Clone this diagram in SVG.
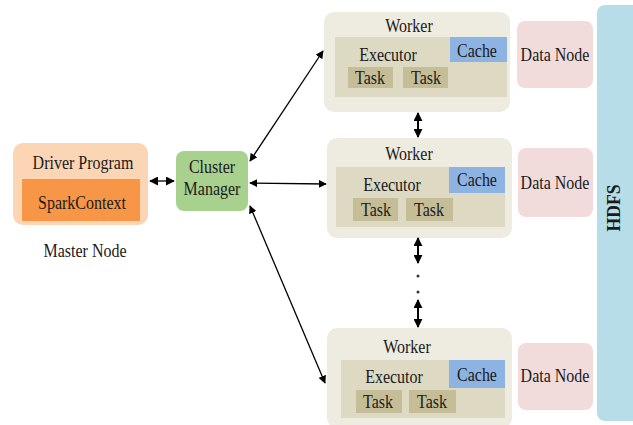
<svg xmlns="http://www.w3.org/2000/svg" width="633" height="425" viewBox="0 0 633 425">
<style>
text{font-family:"Liberation Serif","Times New Roman",serif;font-size:16px;fill:#1a1a1a;text-anchor:middle}
.worker{fill:#EEECE1}
.exec{fill:#DDD9C3}
.task{fill:#C4BD97}
.cache{fill:#8DB3E2}
.dn{fill:#F2DCDB}
.ln{stroke:#000;stroke-width:1.3;fill:none}
.thk{stroke:#000;stroke-width:2;fill:none}
</style>
<defs>
<marker id="ah" viewBox="0 0 10 10" refX="9" refY="5" markerWidth="8" markerHeight="8" orient="auto-start-reverse" markerUnits="userSpaceOnUse">
<path d="M0,0 L10,5 L0,10 z" fill="#000"/>
</marker>
<marker id="ahb" viewBox="0 0 10 10" refX="9" refY="5" markerWidth="9" markerHeight="9" orient="auto-start-reverse" markerUnits="userSpaceOnUse">
<path d="M0,0 L10,5 L0,10 z" fill="#000"/>
</marker>
</defs>
<rect x="0" y="0" width="633" height="425" fill="#fff"/>

<g id="hdfs">
<rect x="597" y="5" width="45" height="416" rx="8" fill="#B7DDE8"/>
<text transform="translate(620,208) rotate(-90) scale(1.1,1.15)" font-weight="bold">HDFS</text>
</g>

<g id="driver">
<rect x="13" y="143" width="135" height="82" rx="10" fill="#FCD5B5"/>
<text transform="translate(83,169) scale(1,1.18)">Driver Program</text>
<rect x="22" y="179" width="118" height="42" fill="#F79646"/>
<text transform="translate(82,209) scale(1,1.18)">SparkContext</text>
</g>
<g id="master-label"><text transform="translate(85,257) scale(1,1.18)">Master Node</text></g>

<g id="cluster">
<rect x="176" y="151" width="72" height="60" rx="8" fill="#A9D18E"/>
<text transform="translate(212,173) scale(1,1.18)">Cluster</text>
<text transform="translate(212,195) scale(1,1.18)">Manager</text>
</g>

<g id="worker1">
<rect class="worker" x="324" y="12" width="186" height="100" rx="10"/>
<text transform="translate(409,32) scale(1,1.18)">Worker</text>
<rect class="exec" x="335" y="37" width="172" height="60"/>
<rect class="cache" x="450" y="37" width="57" height="25"/>
<text transform="translate(388,61) scale(1,1.18)">Executor</text>
<text transform="translate(477,57) scale(1,1.18)">Cache</text>
<rect class="task" x="348" y="67" width="45" height="21"/>
<text transform="translate(370,84) scale(1,1.18)">Task</text>
<rect class="task" x="403" y="67" width="45" height="21"/>
<text transform="translate(426,84) scale(1,1.18)">Task</text>
</g>
<g id="datanode1">
<rect class="dn" x="517" y="21" width="76" height="67" rx="8"/>
<text transform="translate(555,61) scale(1,1.18)">Data Node</text>
</g>

<g id="worker2">
<rect class="worker" x="327" y="138" width="185" height="100" rx="10"/>
<text transform="translate(409,160) scale(1,1.18)">Worker</text>
<rect class="exec" x="336" y="167" width="169" height="60"/>
<rect class="cache" x="449" y="167" width="56" height="26"/>
<text transform="translate(392,191) scale(1,1.18)">Executor</text>
<text transform="translate(477,186) scale(1,1.18)">Cache</text>
<rect class="task" x="353" y="198" width="45" height="23"/>
<text transform="translate(376,216) scale(1,1.18)">Task</text>
<rect class="task" x="406" y="198" width="47" height="23"/>
<text transform="translate(429,216) scale(1,1.18)">Task</text>
</g>
<g id="datanode2">
<rect class="dn" x="518" y="148" width="75" height="69" rx="8"/>
<text transform="translate(555,189) scale(1,1.18)">Data Node</text>
</g>

<g id="worker3">
<rect class="worker" x="327" y="328" width="185" height="100" rx="10"/>
<text transform="translate(407,353) scale(1,1.18)">Worker</text>
<rect class="exec" x="341" y="360" width="164" height="58"/>
<rect class="cache" x="449" y="360" width="56" height="28"/>
<text transform="translate(394,383) scale(1,1.18)">Executor</text>
<text transform="translate(477,381) scale(1,1.18)">Cache</text>
<rect class="task" x="356" y="390" width="46" height="23"/>
<text transform="translate(378,408) scale(1,1.18)">Task</text>
<rect class="task" x="409" y="390" width="47" height="23"/>
<text transform="translate(432,408) scale(1,1.18)">Task</text>
</g>
<g id="datanode3">
<rect class="dn" x="518" y="343" width="75" height="67" rx="8"/>
<text transform="translate(555,382) scale(1,1.18)">Data Node</text>
</g>

<g id="connectors">
<line class="ln" x1="150" y1="181" x2="174" y2="181" marker-start="url(#ahb)" marker-end="url(#ahb)"/>
<line class="ln" x1="250" y1="161" x2="323" y2="51" marker-start="url(#ah)" marker-end="url(#ah)"/>
<line class="ln" x1="250" y1="183" x2="326" y2="184" marker-start="url(#ah)" marker-end="url(#ah)"/>
<line class="ln" x1="250" y1="206" x2="325" y2="383" marker-start="url(#ah)" marker-end="url(#ah)"/>
<line class="thk" x1="418" y1="113" x2="418" y2="137" marker-start="url(#ahb)" marker-end="url(#ahb)"/>
<line class="thk" x1="418" y1="238" x2="418" y2="263" marker-start="url(#ahb)" marker-end="url(#ahb)"/>
<line class="thk" x1="418" y1="300" x2="418" y2="327" marker-start="url(#ahb)" marker-end="url(#ahb)"/>
<circle cx="418" cy="276" r="1.5" fill="#333"/>
<circle cx="418" cy="292" r="1.5" fill="#333"/>
</g>
</svg>
